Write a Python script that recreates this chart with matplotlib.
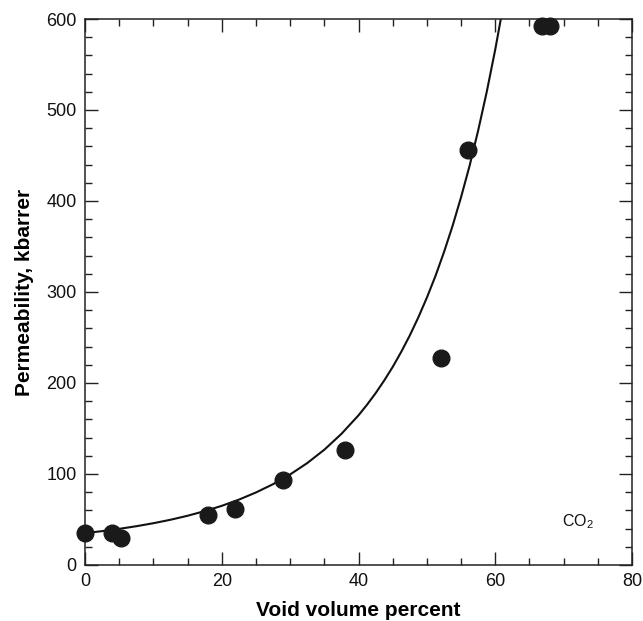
import matplotlib
matplotlib.use("Agg")
import matplotlib.pyplot as plt
from matplotlib.ticker import MultipleLocator

plt.rcParams['font.family'] = ['Liberation Sans', 'DejaVu Sans']
plt.rcParams['mathtext.fontset'] = 'custom'
plt.rcParams['mathtext.rm'] = 'Liberation Sans'

# Measured data
void_pct = [0, 4, 5.2, 18, 22, 29, 38, 52, 56, 66.8, 68]
perm_kbarrer = [35, 35.5, 30, 55, 62, 93, 126, 227, 456, 592, 592]

# Fitted curve
curve_x = [0, 2.5, 5, 7.5, 10, 12.5, 15, 17.5, 20, 22.5, 25, 27.5, 30, 32.5,
           35, 37.5, 40, 41.25, 42.5, 43.75, 45, 46.25, 47.5, 48.75, 50, 51.25,
           52.5, 53.75, 55, 56.25, 57.5, 58.75, 60, 61]
curve_y = [35, 37.2, 39.7, 42.6, 45.9, 49.7, 54.1, 59.2, 65.0, 71.8, 79.7, 88.8,
           99.5, 112.0, 126.7, 144.1, 164.5, 176.2, 188.8, 202.7, 217.7, 234.3,
           252.3, 272.2, 293.9, 317.6, 343.9, 372.6, 404.4, 439, 477.7, 520,
           566.8, 608]

fig = plt.figure(figsize=(6.43, 6.21), dpi=100)
ax = fig.add_axes([0.1322, 0.0902, 0.8508, 0.8792])

ax.plot(curve_x, curve_y, color='#111111', lw=1.5, zorder=2)
ax.plot(void_pct, perm_kbarrer, 'o', color='#1a1a1a', ms=12, zorder=3, clip_on=False)

ax.set_xlim(0, 80)
ax.set_ylim(0, 600)
ax.xaxis.set_major_locator(MultipleLocator(20))
ax.xaxis.set_minor_locator(MultipleLocator(5))
ax.yaxis.set_major_locator(MultipleLocator(100))
ax.yaxis.set_minor_locator(MultipleLocator(20))
ax.tick_params(which='both', direction='in', top=True, right=True, width=1.0,
               colors='#222222', labelsize=13, labelcolor='#111111')
ax.tick_params(which='major', length=9.5, pad=6)
ax.tick_params(which='minor', length=5)
for s in ax.spines.values():
    s.set_linewidth(1.1)
    s.set_color('#222222')

ax.set_xlabel('Void volume percent', fontsize=15, fontweight='bold', labelpad=8)
ax.set_ylabel('Permeability, kbarrer', fontsize=15, fontweight='bold', labelpad=9)

ax.text(69.7, 48, 'CO$_2$', fontsize=11.5, va='center', ha='left', color='#111111')

fig.savefig('out.png', dpi=100)
